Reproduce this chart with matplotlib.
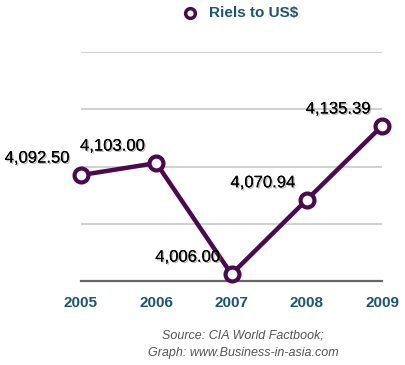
import matplotlib
matplotlib.use("Agg")
import matplotlib.pyplot as plt
import matplotlib.patheffects as pe
from matplotlib.lines import Line2D

years = [2005, 2006, 2007, 2008, 2009]
year_labels = ["2005", "2006", "2007", "2008", "2009"]
riels = [4092.50, 4103.00, 4006.00, 4070.94, 4135.39]
value_labels = ["4,092.50", "4,103.00", "4,006.00", "4,070.94", "4,135.39"]
series_name = "Riels to US$"

plt.rcParams['font.family'] = ['Liberation Sans', 'DejaVu Sans']

W, H = 405, 365
fig = plt.figure(figsize=(W/100, H/100), dpi=100)
ax = fig.add_axes([81/W, 1-281/H, (382-81)/W, (281-52)/H])

line_color = '#4b0a4e'
text_teal = '#1d5573'

ax.set_xlim(2005, 2009)
ax.set_ylim(4000, 4200)
for v in [4050, 4100, 4150, 4200]:
    ax.axhline(v, color='#c9c9c9', lw=1.2, zorder=1)
ax.axhline(4000, color='#666666', lw=1.6, zorder=2, clip_on=False)

ax.plot(years, riels, color=line_color, lw=3.2, marker='o', ms=10,
        markerfacecolor='white', markeredgecolor=line_color, markeredgewidth=3,
        clip_on=False, zorder=5)

shadow = [pe.withSimplePatchShadow(offset=(1, -1), shadow_rgbFace='#777777', alpha=0.5), pe.Normal()]
for x, y, lab in zip(years, riels, value_labels):
    ax.annotate(lab, (x, y), xytext=(-44, 17), textcoords='offset pixels',
                ha='center', va='center', fontsize=12, color='black',
                path_effects=shadow, zorder=6, annotation_clip=False)

for s in ax.spines.values():
    s.set_visible(False)
ax.set_yticks([])
ax.set_xticks(years)
ax.set_xticklabels(year_labels, fontsize=11, fontweight='bold', color=text_teal)
ax.tick_params(axis='x', length=0, pad=11)

# legend
fig.add_artist(Line2D([190/W], [1-13/H], marker='o', ms=7, markerfacecolor='white',
                      markeredgecolor=line_color, markeredgewidth=2.5, transform=fig.transFigure))
fig.text(209/W, 1-13/H, series_name, fontsize=11, fontweight='bold', color=text_teal,
         ha='left', va='center')

fig.text(243/W, 1-335/H, "Source: CIA World Factbook;", fontsize=9, style='italic',
         color='#555555', ha='center', va='center')
fig.text(243/W, 1-353/H, "Graph: www.Business-in-asia.com", fontsize=9, style='italic',
         color='#555555', ha='center', va='center')

fig.savefig('out.png', dpi=100, facecolor='white')
